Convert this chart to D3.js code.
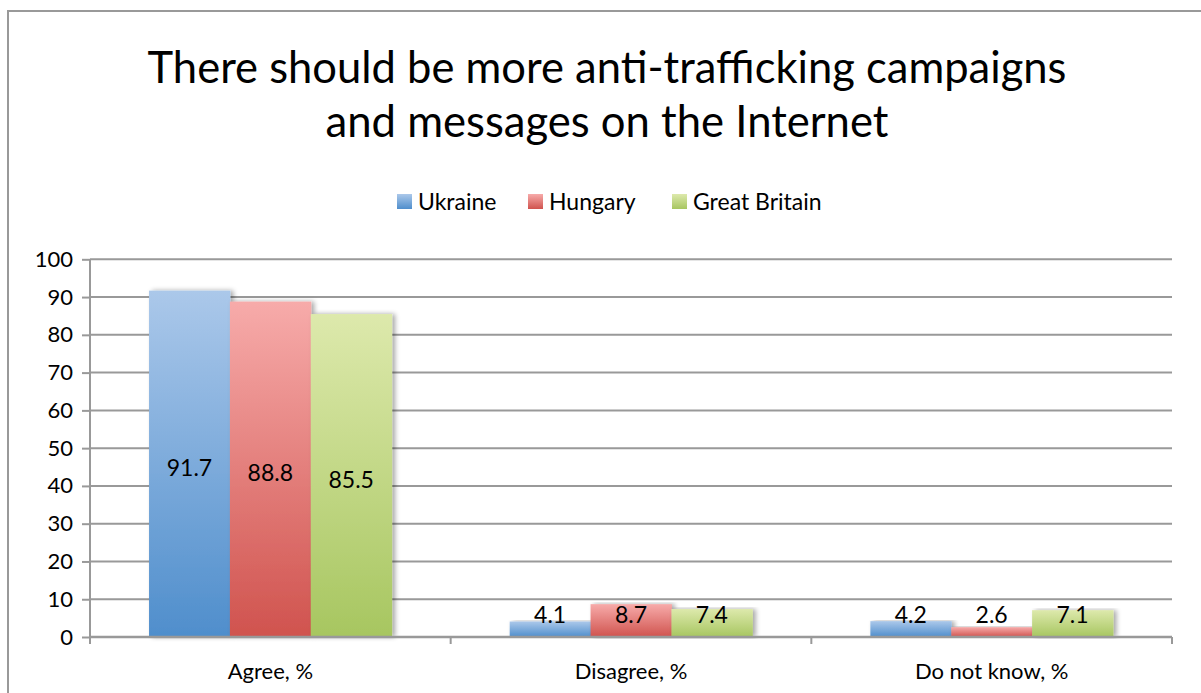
<!DOCTYPE html>
<html><head><meta charset="utf-8">
<script src="https://cdn.jsdelivr.net/npm/d3@7/dist/d3.min.js"></script>
<style>body{margin:0;background:#fff;}svg{display:block;font-family:Lato,"Open Sans",sans-serif;}</style>
</head><body>
<script>
const titleLines = ["There should be more anti-trafficking campaigns", "and messages on the Internet"];
const categories = ["Agree, %", "Disagree, %", "Do not know, %"];
const seriesNames = ["Ukraine", "Hungary", "Great Britain"];
const ukraine = [91.7, 4.1, 4.2];
const hungary = [88.8, 8.7, 2.6];
const greatBritain = [85.5, 7.4, 7.1];
const yTicks = [0, 10, 20, 30, 40, 50, 60, 70, 80, 90, 100];
const seriesValues = [ukraine, hungary, greatBritain];
const seriesColors = [["#abc8ea", "#4f8ecc"], ["#f7abaa", "#d0534e"], ["#dde9ac", "#a7c660"]];

const W = 1201, H = 693;
const svg = d3.select("body").append("svg").attr("width", W).attr("height", H);
const defs = svg.append("defs");
seriesColors.forEach((c, i) => {
  const g = defs.append("linearGradient").attr("id", "g" + i).attr("x1", 0).attr("y1", 0).attr("x2", 0).attr("y2", 1);
  g.append("stop").attr("offset", "0%").attr("stop-color", c[0]);
  g.append("stop").attr("offset", "100%").attr("stop-color", c[1]);
});
const f = defs.append("filter").attr("id", "sh").attr("x", "-20%").attr("y", "-5%").attr("width", "150%").attr("height", "110%");
f.append("feGaussianBlur").attr("in", "SourceAlpha").attr("stdDeviation", 2.5).attr("result", "b");
f.append("feOffset").attr("in", "b").attr("dx", 3).attr("dy", 0).attr("result", "o");
f.append("feComponentTransfer").attr("in", "o").attr("result", "o2").append("feFuncA").attr("type", "linear").attr("slope", 0.35);
const m = f.append("feMerge"); m.append("feMergeNode").attr("in", "o2"); m.append("feMergeNode").attr("in", "SourceGraphic");

// outer frame
svg.append("path").attr("d", `M8,${H+5} L8,11 L${W+5},11`).attr("fill", "none").attr("stroke", "#999").attr("stroke-width", 2);

// title
const tl = [{t: titleLines[0], y: 83, w: 919}, {t: titleLines[1], y: 137, w: 563}];
tl.forEach(d => {
  const t = svg.append("text").attr("x", 607).attr("y", d.y).attr("text-anchor", "middle").attr("font-size", 40).attr("fill", "#000").text(d.t);
  const len = t.node().getComputedTextLength();
  t.attr("font-size", 40 * d.w / len);
});

// scales
const plot = {l: 90, r: 1172, t: 259.3, b: 637};
const x0 = d3.scaleBand().domain(categories).range([plot.l, plot.r]).paddingInner(0).paddingOuter(0);
const x1 = d3.scaleBand().domain(seriesNames).range([0, x0.bandwidth()]).paddingInner(0).paddingOuter(0.73);
const y = d3.scaleLinear().domain([0, 100]).range([plot.b, plot.t]);

// grid
svg.append("g").selectAll("line").data(yTicks.filter(v => v > 0)).join("line")
  .attr("x1", plot.l).attr("x2", plot.r).attr("y1", d => y(d)).attr("y2", d => y(d))
  .attr("stroke", "#999").attr("stroke-width", 2);

// y axis
const ya = svg.append("g").attr("transform", `translate(${plot.l},0)`)
  .call(d3.axisLeft(y).tickValues(yTicks).tickSize(8).tickPadding(9).tickFormat(d3.format("d")));
ya.select(".domain").remove();
ya.selectAll(".tick line").attr("stroke", "#999").attr("stroke-width", 2);
ya.selectAll(".tick text").attr("font-size", 22).attr("fill", "#000").attr("font-family", "Lato,'Open Sans',sans-serif");
svg.append("line").attr("x1", plot.l).attr("x2", plot.l).attr("y1", plot.t).attr("y2", plot.b + 7).attr("stroke", "#999").attr("stroke-width", 2);

// bars
const groups = svg.append("g").selectAll("g").data(categories).join("g")
  .attr("transform", d => `translate(${x0(d)},0)`);
groups.each(function(cat, ci) {
  const g = d3.select(this);
  const data = seriesNames.map((s, si) => ({s, si, v: seriesValues[si][ci]}));
  g.selectAll("rect").data(data).join("rect")
    .attr("x", d => x1(d.s)).attr("width", x1.bandwidth() + 0.5)
    .attr("y", d => y(d.v)).attr("height", d => y(0) - y(d.v))
    .attr("fill", d => `url(#g${d.si})`).attr("filter", "url(#sh)");
  g.selectAll("text").data(data).join("text")
    .attr("x", d => x1(d.s) + x1.bandwidth() / 2)
    .attr("y", d => Math.min(y(d.v / 2), y(0) - 26) + 4)
    .attr("dy", "0.35em").attr("text-anchor", "middle").attr("font-size", 23).attr("fill", "#000")
    .text(d => d3.format(".1f")(d.v));
});

// x axis
svg.append("line").attr("x1", plot.l).attr("x2", plot.r).attr("y1", plot.b).attr("y2", plot.b).attr("stroke", "#999").attr("stroke-width", 2.5);
const xa = svg.append("g").attr("transform", `translate(0,${plot.b})`)
  .call(d3.axisBottom(x0).tickSize(0).tickPadding(26));
xa.select(".domain").remove();
xa.selectAll(".tick text").attr("font-size", 22).attr("fill", "#000").attr("font-family", "Lato,'Open Sans',sans-serif");
const bounds = categories.map(c => x0(c)).concat([plot.r]);
svg.append("g").selectAll("line").data(bounds).join("line")
  .attr("x1", d => d).attr("x2", d => d).attr("y1", plot.b).attr("y2", plot.b + 7)
  .attr("stroke", "#999").attr("stroke-width", 2);

// legend
const legX = [397, 528, 672];
const leg = svg.append("g").selectAll("g").data(seriesNames).join("g")
  .attr("transform", (d, i) => `translate(${legX[i]},194)`);
leg.append("rect").attr("width", 15).attr("height", 15).attr("fill", (d, i) => `url(#g${i})`);
leg.append("text").attr("x", 21).attr("y", 8).attr("dy", "0.35em").attr("font-size", 23).attr("fill", "#000").text(d => d);
</script>
</body></html>
